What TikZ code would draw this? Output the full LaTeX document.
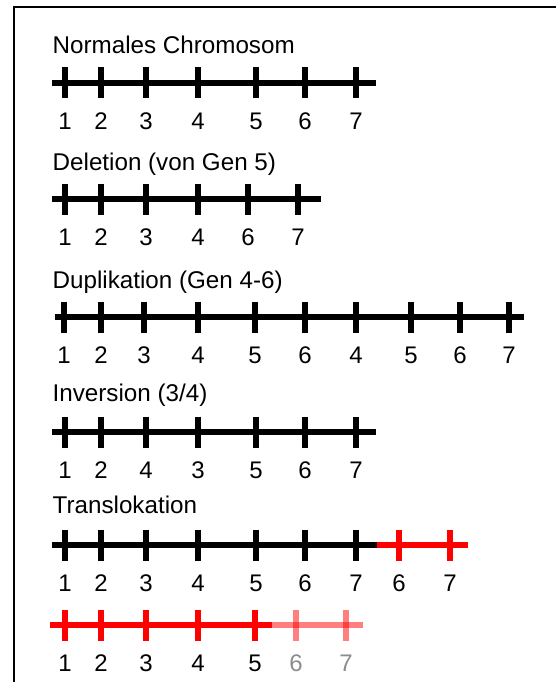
\documentclass[tikz,border=0pt]{standalone}
\usepackage{fontspec}
\setmainfont{Liberation Sans}
% gene marks and their numbers along one chromosome bar
% #1 mark options, #2 number options, #3 bar y, #4 name prefix, #5 list x/label
\newcommand\chrgenes[5]{%
  \foreach \x/\g [count=\i] in {#5} {
    \draw[gene,#1] (\x,#3-15.5) -- (\x,#3+15.5);
    \node[num,#2] (#4-\i) at (\x,#3+46.5) {\g};
  }}
\begin{document}
\begin{tikzpicture}[x=1pt,y=-1pt,
  chrom/.style={line width=6.5pt},
  gene/.style={line width=6.5pt},
  title/.style={anchor=base west, inner sep=0pt, font=\fontsize{24.2}{29}\selectfont},
  num/.style={anchor=base, inner sep=0pt, font=\fontsize{24}{29}\selectfont},
  moved/.style={red},
  lost/.style={red, opacity=0.5},
  lostnum/.style={text=black!45},
]
\useasboundingbox (0,0) rectangle (555,682);
% frame
\draw[line width=2pt] (14,690) -- (14,7) -- (560,7);

% normal chromosome
\node[title] (t1) at (52.5,54) {Normales Chromosom};
\draw[chrom] (52,83) -- (376,83);
\chrgenes{}{}{83}{a}{65/1,101/2,146/3,198/4,256/5,305/6,356/7}

% deletion
\node[title] (t2) at (52.5,170) {Deletion (von Gen 5)};
\draw[chrom] (52,199) -- (321,199);
\chrgenes{}{}{199}{b}{65/1,101/2,146/3,198/4,248/6,298/7}

% duplication
\node[title] (t3) at (52.5,288) {Duplikation (Gen 4-6)};
\draw[chrom] (55,317) -- (524,317);
\chrgenes{}{}{317}{c}{64/1,101/2,144/3,198/4,255/5,305/6,356/4,411/5,460/6,509/7}

% inversion
\node[title] (t4) at (52.5,401) {Inversion (3/4)};
\draw[chrom] (52,432) -- (376,432);
\chrgenes{}{}{432}{d}{65/1,101/2,146/4,198/3,256/5,305/6,356/7}

% translocation
\node[title] (t5) at (52.5,513) {Translokation};
\draw[chrom] (52,545) -- (377,545);
\draw[chrom,moved] (377,545) -- (468,545);
\chrgenes{}{}{545}{e}{65/1,101/2,146/3,198/4,256/5,305/6,356/7}
\chrgenes{moved}{}{545}{f}{399/6,450/7}

\draw[chrom,moved] (50,625) -- (272,625);
\draw[chrom,lost] (272,625) -- (363,625);
\chrgenes{moved}{}{625}{g}{65/1,101/2,146/3,198/4,255/5}
\chrgenes{lost}{lostnum}{625}{h}{296/6,346/7}
\end{tikzpicture}
\end{document}
